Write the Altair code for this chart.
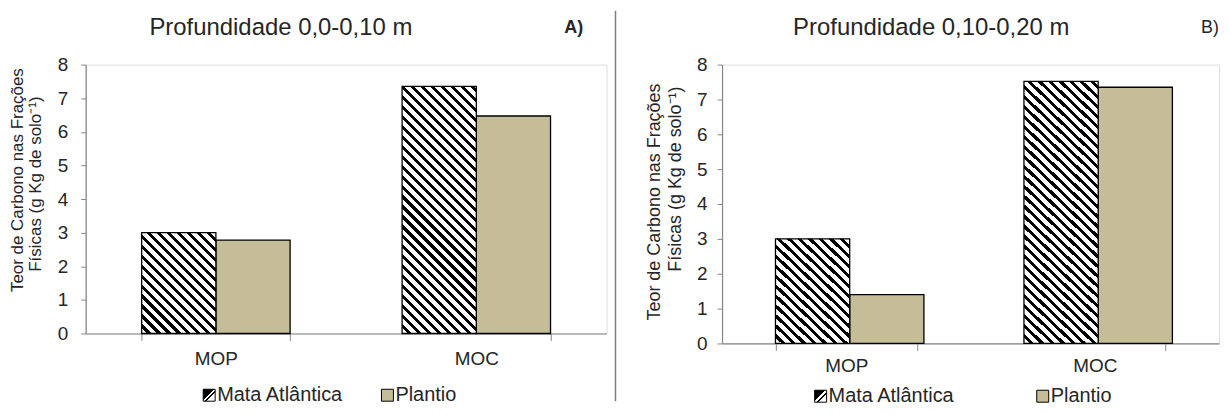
import altair as alt
import pandas as pd

# ---------------- data ----------------
categorias = ["MOP", "MOC"]
series = ["Mata Atlântica", "Plantio"]
mata_a = [3.0, 7.35]
plantio_a = [2.78, 6.47]
mata_b = [3.0, 7.52]
plantio_b = [1.40, 7.35]
y_ticks = [0, 1, 2, 3, 4, 5, 6, 7, 8]

titulo_a = "Profundidade 0,0-0,10 m"
titulo_b = "Profundidade 0,10-0,20 m"
letra_a = "A)"
letra_b = "B)"
ytitulo_1 = "Teor de Carbono nas Frações"
ytitulo_2 = "Físicas  (g Kg de solo⁻¹)"

# ---------------- style ----------------
FONT = "Liberation Sans, Arial, sans-serif"
TAN = "#C4BD97"
AXIS = "#868686"
TXT = "#262626"
P_IN = 0.43


def hatch(w, h, period=10.0, black=4.2):
    """Diagonal (\\\\) hatch as a hard-stop linear gradient for a w x h box."""
    c = (w + h) / (w * w + h * h)
    span = w + h
    stops = []
    q = 0.0
    while q < span - 1e-9:
        a = q / span
        b = min((q + period - black) / span, 1.0)
        e = min((q + period) / span, 1.0)
        stops.append({"offset": a, "color": "white"})
        stops.append({"offset": b, "color": "white"})
        if b < 1.0:
            stops.append({"offset": b, "color": "black"})
            stops.append({"offset": e, "color": "black"})
        q += period
    return {"gradient": "linear", "x1": 0, "y1": 1, "x2": c * w, "y2": 1 - c * h,
            "stops": stops}


ICON_FILL = {"gradient": "linear", "x1": 0, "y1": 0, "x2": 1, "y2": 1, "stops": [
    {"offset": 0.0, "color": "black"}, {"offset": 0.45, "color": "black"},
    {"offset": 0.45, "color": "white"}, {"offset": 0.56, "color": "white"},
    {"offset": 0.56, "color": "black"}, {"offset": 0.64, "color": "black"},
    {"offset": 0.64, "color": "white"}, {"offset": 1.0, "color": "white"},
]}


def texto(s, x, y, size, **kw):
    return alt.Chart(pd.DataFrame({"t": [s]})).mark_text(
        font=FONT, fontSize=size, color=TXT, **kw
    ).encode(x=alt.value(x), y=alt.value(y), text="t:N")


def caixa(x1, x2, y1, y2, fill):
    return alt.Chart(pd.DataFrame({"k": [0]})).mark_rect(
        fill=fill, stroke="black", strokeWidth=1
    ).encode(x=alt.value(x1), x2=alt.value(x2), y=alt.value(y1), y2=alt.value(y2))


def painel(mata, plantio, W, H, g):
    df = pd.DataFrame({
        "cat": categorias * 2,
        "serie": [series[0]] * 2 + [series[1]] * 2,
        "valor": mata + plantio,
    })
    xs = alt.X("cat:N", sort=categorias,
               scale=alt.Scale(domain=categorias, paddingInner=P_IN, paddingOuter=P_IN / 2),
               axis=alt.Axis(title=None, labelAngle=0, tickBand="extent", tickSize=7,
                             domainColor=AXIS, tickColor=AXIS, domainWidth=1.2,
                             labelFont=FONT, labelFontSize=19, labelColor=TXT,
                             labelPadding=g["xlp"]))
    xo = alt.XOffset("serie:N", scale=alt.Scale(domain=series, paddingInner=0, paddingOuter=0))
    ys = alt.Y("valor:Q", scale=alt.Scale(domain=[0, 8], nice=False),
               axis=alt.Axis(title=None, values=y_ticks, grid=False, tickSize=5,
                             domainColor=AXIS, tickColor=AXIS, domainWidth=1.2,
                             labelFont=FONT, labelFontSize=19, labelColor=TXT,
                             labelPadding=g["ylp"]))
    base = alt.Chart(df).encode(x=xs, xOffset=xo, y=ys)
    barw = (W / 2) * (1 - P_IN) / 2

    layers = [
        base.transform_filter(alt.datum.serie == series[1]).mark_bar(
            fill=TAN, stroke="black", strokeWidth=1.3)
    ]
    for i, cat in enumerate(categorias):
        layers.append(
            base.transform_filter((alt.datum.serie == series[0]) & (alt.datum.cat == cat))
            .mark_bar(fill=hatch(barw, mata[i] * H / 8), stroke="black", strokeWidth=1.3)
        )
    layers += [
        texto(g["titulo"], g["tx"], -37, 24),
        texto(g["letra"], g["lx"], -37, 18, fontWeight=g["lw"]),
        texto(ytitulo_1, g["y1x"], g["y1y"], g["yfs"], angle=270),
        texto(ytitulo_2, g["y2x"], g["y2y"], g["yfs"], angle=270),
        caixa(g["m1"], g["m1"] + 12, g["ly"] - 6, g["ly"] + 6, ICON_FILL),
        texto(series[0], g["m1"] + 14, g["ly"], 20, align="left"),
        caixa(g["p1"], g["p1"] + 12, g["ly"] - 6, g["ly"] + 6, TAN),
        texto(series[1], g["p1"] + 14, g["ly"], 20, align="left"),
    ]
    if g.get("sep") is not None:
        layers.append(
            alt.Chart(pd.DataFrame({"k": [0]})).mark_rule(color="#7f7f7f", strokeWidth=1.5)
            .encode(x=alt.value(g["sep"]), y=alt.value(-54), y2=alt.value(338))
        )
    return alt.layer(*layers).properties(width=W, height=H)


W1, H1 = 523, 270
W2, H2 = 499, 280

left = painel(mata_a, plantio_a, W1, H1, dict(
    titulo=titulo_a, tx=196, letra=letra_a, lx=490, lw="bold",
    y1x=-67.5, y1y=116, y2x=-50, y2y=120, yfs=17, xlp=9, ylp=13,
    m1=118, p1=297, ly=332))
right = painel(mata_b, plantio_b, W2, H2, dict(
    titulo=titulo_b, tx=210, letra=letra_b, lx=490, lw="normal",
    y1x=-67, y1y=138, y2x=-46, y2y=115, yfs=18, xlp=6, ylp=10,
    m1=93, p1=316, ly=333, sep=-107))

chart = alt.hconcat(left, right, spacing=116, bounds="flush").properties(
    padding={"left": 0, "top": 0, "right": 0, "bottom": 0}
).configure_view(stroke=None).configure(background="white")

chart.save("out.html", embed_options={"renderer": "svg", "actions": False})
